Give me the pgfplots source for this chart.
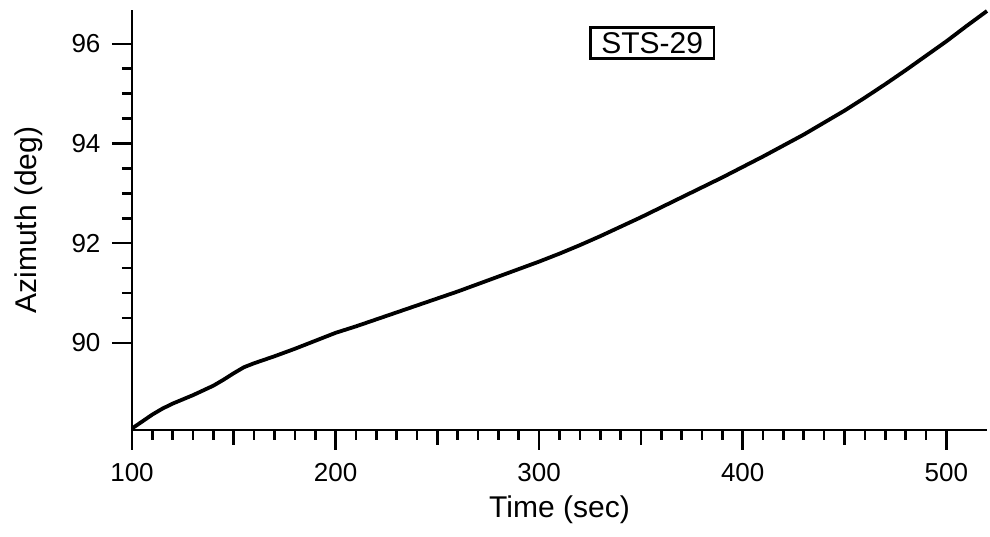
\documentclass[border=0pt]{standalone}
\usepackage{fontspec}
\setmainfont{Liberation Sans}
\usepackage{pgfplots}
\pgfplotsset{compat=1.18}
\begin{document}
\begin{tikzpicture}
\begin{axis}[
  scale only axis,
  width=855pt, height=420pt,
  xmin=100, xmax=520, ymin=88.25, ymax=96.68,
  axis lines*=left,
  axis line style={line width=2.8pt},
  every tick/.style={black, line width=2.6pt},
  tick align=outside,
  major tick length=20pt,
  minor tick length=10pt,
  xtick={100,200,300,400,500},
  ytick={90,92,94,96},
  minor x tick num=9,
  minor y tick num=3,
  extra x ticks={150,250,350,450},
  extra x tick labels={},
  extra x tick style={major tick length=15pt},
  /pgf/number format/assume math mode=true,
  tick label style={font=\fontsize{26}{30}\selectfont},
  xticklabel style={yshift=-10pt},
  yticklabel style={xshift=-8pt},
  label style={font=\fontsize{30}{34}\selectfont},
  xlabel={Time (sec)},
  ylabel={Azimuth (deg)},
  xlabel style={at={(axis description cs:0.5,0)}, anchor=center, yshift=-80pt},
  ylabel style={at={(axis description cs:0,0.5)}, anchor=center, yshift=103pt},
  clip=false,
]
\addplot[black, line width=3.8pt, line join=round] coordinates {
(100,88.28) (105,88.42) (110,88.56) (115,88.68) (120,88.78) (130,88.95) (140,89.14) (145,89.26) (150,89.39)
(155,89.51) (160,89.59) (170,89.73) (180,89.88) (190,90.04) (200,90.20) (210,90.33)
(220,90.47) (230,90.61) (240,90.75) (250,90.89) (260,91.03) (270,91.18)
(280,91.33) (290,91.48) (300,91.63) (310,91.79) (320,91.96) (330,92.14)
(340,92.33) (350,92.52) (360,92.72) (370,92.92) (380,93.12) (390,93.32)
(400,93.53) (410,93.74) (420,93.96) (430,94.18) (440,94.42) (450,94.66)
(460,94.92) (470,95.19) (480,95.47) (490,95.76) (500,96.05) (510,96.36)
(520,96.66)
};
\node[draw, line width=2.5pt, inner xsep=11pt, inner ysep=5pt, font=\fontsize{30}{34}\selectfont] at (axis cs:355.5,96.02) {STS-29};
\end{axis}
\path ([shift={(-132pt,-107pt)}]current axis.south west) rectangle ([shift={(3pt,10pt)}]current axis.north east);
\end{tikzpicture}
\end{document}
